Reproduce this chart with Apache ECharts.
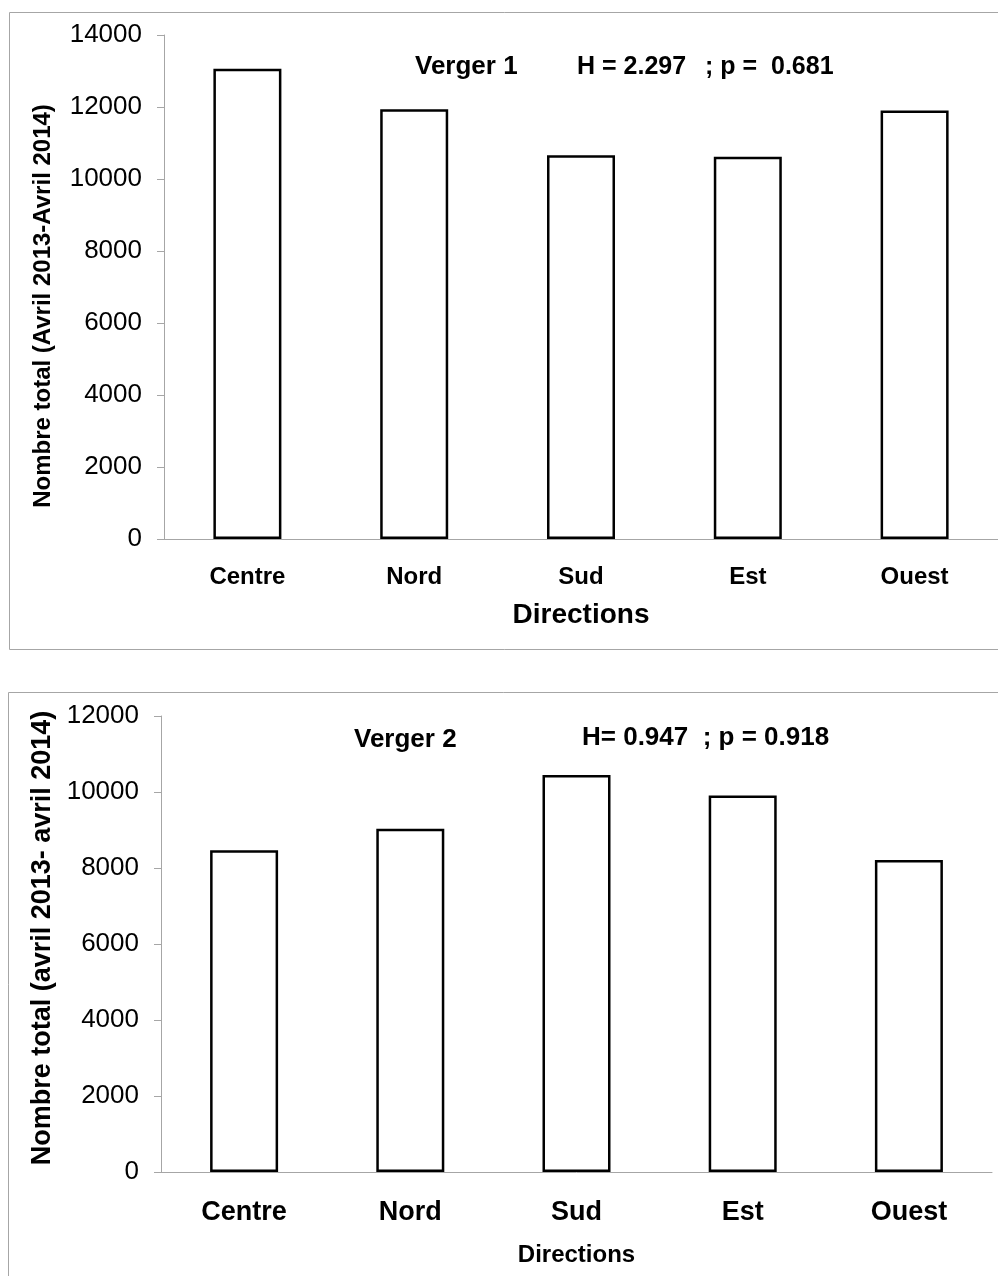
<!DOCTYPE html>
<html>
<head>
<meta charset="utf-8">
<script src="https://cdn.jsdelivr.net/npm/echarts@6/dist/echarts.min.js"></script>
<style>
  html, body { margin: 0; padding: 0; background: #fff; }
  #container { width: 998px; height: 1276px; }
</style>
</head>
<body>
<div id="container"></div>
<script>
// directions (same for both orchards)
var directions = ['Centre', 'Nord', 'Sud', 'Est', 'Ouest'];
// total counts april 2013 - april 2014
var verger1 = [13060, 11940, 10660, 10620, 11900];
var verger2 = [8470, 9030, 10450, 9910, 8210];

var axisGray = '#a6a6a6';
var font = 'Liberation Sans, Arial, sans-serif';

var myChart = echarts.init(document.getElementById('container'));

function xAxisFor(idx, labelSize, nameSize, labelMargin, nameGap, tickLen) {
    return {
        type: 'category',
        gridIndex: idx,
        data: directions,
        name: 'Directions',
        nameLocation: 'middle',
        nameGap: nameGap,
        nameTextStyle: {fontFamily: font, fontSize: nameSize, fontWeight: 'bold', color: '#000'},
        axisLine: {lineStyle: {color: axisGray, width: 1}},
        axisTick: {length: tickLen, lineStyle: {color: axisGray}},
        axisLabel: {fontFamily: font, fontSize: labelSize, fontWeight: 'bold', color: '#000', margin: labelMargin}
    };
}

function yAxisFor(idx, max, name, nameSize, nameGap, namePad) {
    return {
        type: 'value',
        gridIndex: idx,
        min: 0,
        max: max,
        interval: 2000,
        name: name,
        nameLocation: 'middle',
        nameRotate: 90,
        nameGap: nameGap,
        nameTextStyle: {fontFamily: font, fontSize: nameSize, fontWeight: 'bold', color: '#000', padding: namePad},
        splitLine: {show: false},
        axisLine: {show: true, lineStyle: {color: axisGray, width: 1}},
        axisTick: {show: true, length: 7, lineStyle: {color: axisGray}},
        axisLabel: {
            fontFamily: font, fontSize: 26, color: '#000', margin: 22,
            formatter: function (v) { return String(v); }
        }
    };
}

var barStyle = {color: '#fff', borderColor: '#000', borderWidth: 2.5};

option = {
    animation: false,
    backgroundColor: '#fff',
    grid: [
        {left: 164, top: 35, width: 834, height: 504},
        {left: 161, top: 716, width: 831, height: 456}
    ],
    xAxis: [
        xAxisFor(0, 24, 28, 26, 62, 7),
        xAxisFor(1, 27, 24, 27, 71, 10)
    ],
    yAxis: [
        yAxisFor(0, 14000, 'Nombre total (Avril 2013-Avril 2014)', 24, 109, [0, 38, 0, 0]),
        yAxisFor(1, 12000, 'Nombre total (avril 2013- avril 2014)', 27, 101, [0, 0, 0, 12])
    ],
    series: [
        {type: 'bar', xAxisIndex: 0, yAxisIndex: 0, data: verger1, barWidth: 68, itemStyle: barStyle},
        {type: 'bar', xAxisIndex: 1, yAxisIndex: 1, data: verger2, barWidth: 68, itemStyle: barStyle}
    ],
    graphic: [
        // frames around both panels
        {type: 'rect', shape: {x: 9.5, y: 12.5, width: 990, height: 637}, style: {fill: 'none', stroke: axisGray, lineWidth: 1}, z: -1},
        {type: 'rect', shape: {x: 8.5, y: 692.5, width: 992, height: 620}, style: {fill: 'none', stroke: axisGray, lineWidth: 1}, z: -1},
        // statistics
        {type: 'text', x: 415, y: 67, style: {text: 'Verger 1', font: 'bold 26px ' + font, fill: '#000', textVerticalAlign: 'middle'}},
        {type: 'text', x: 577, y: 67, style: {text: 'H = 2.297', font: 'bold 25px ' + font, fill: '#000', textVerticalAlign: 'middle'}},
        {type: 'text', x: 705, y: 67, style: {text: '; p =  0.681', font: 'bold 25px ' + font, fill: '#000', textVerticalAlign: 'middle'}},
        {type: 'text', x: 354, y: 740, style: {text: 'Verger 2', font: 'bold 26px ' + font, fill: '#000', textVerticalAlign: 'middle'}},
        {type: 'text', x: 582, y: 738, style: {text: 'H= 0.947  ; p = 0.918', font: 'bold 26px ' + font, fill: '#000', textVerticalAlign: 'middle'}}
    ]
};

myChart.setOption(option);
</script>
</body>
</html>
